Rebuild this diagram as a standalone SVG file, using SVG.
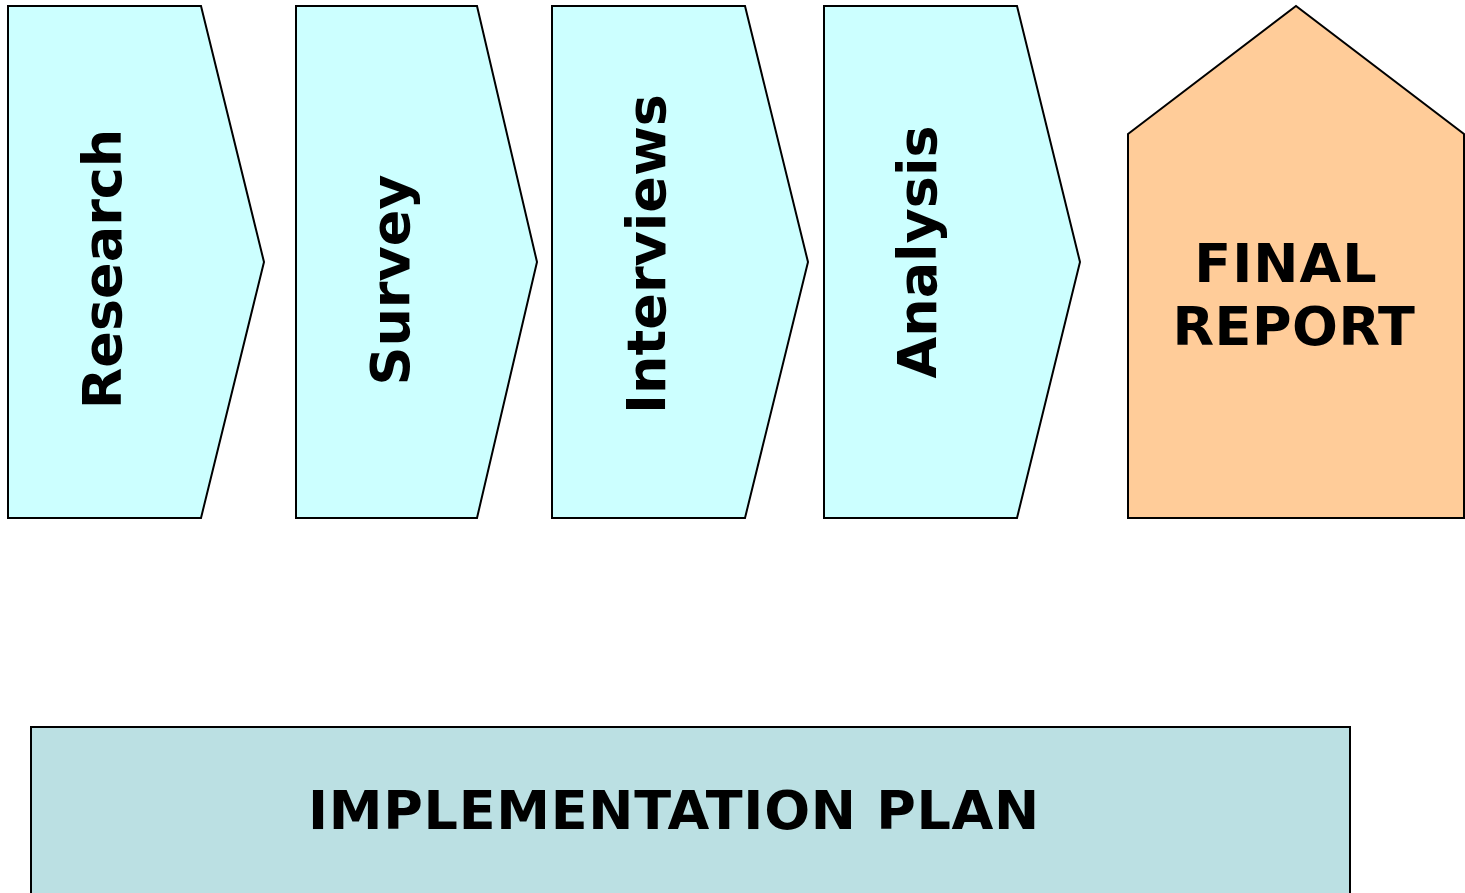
<svg xmlns="http://www.w3.org/2000/svg" width="1465" height="893" viewBox="0 0 1465 893">
<style>
.step{fill:#CCFFFF;stroke:#000;stroke-width:2}
.final{fill:#FFCC99;stroke:#000;stroke-width:2}
.plan{fill:#BBE0E3;stroke:#000;stroke-width:2}
text{font-family:"DejaVu Sans","Verdana",sans-serif;font-weight:bold;font-size:54px;fill:#000;text-anchor:middle}
</style>
<rect width="1465" height="893" fill="#fff"/>
<g id="connectors"></g>
<g id="research">
<polygon class="step" points="8,6 201,6 264,262 201,518 8,518"/>
<text transform="translate(121,269) rotate(-90)">Research</text>
</g>
<g id="survey">
<polygon class="step" points="296,6 477,6 537,262 477,518 296,518"/>
<text transform="translate(409,280) rotate(-90)">Survey</text>
</g>
<g id="interviews">
<polygon class="step" points="552,6 745,6 808,262 745,518 552,518"/>
<text transform="translate(665,254) rotate(-90)">Interviews</text>
</g>
<g id="analysis">
<polygon class="step" points="824,6 1017,6 1080,262 1017,518 824,518"/>
<text transform="translate(936,252) rotate(-90)">Analysis</text>
</g>
<g id="final-report">
<polygon class="final" points="1128,134 1296,6 1464,134 1464,518 1128,518"/>
<text x="1286" y="282" letter-spacing="1">FINAL</text>
<text x="1294" y="345" letter-spacing="0.5">REPORT</text>
</g>
<g id="implementation-plan">
<rect class="plan" x="31" y="727" width="1319" height="180"/>
<text x="674" y="829" letter-spacing="0.7">IMPLEMENTATION PLAN</text>
</g>
</svg>
